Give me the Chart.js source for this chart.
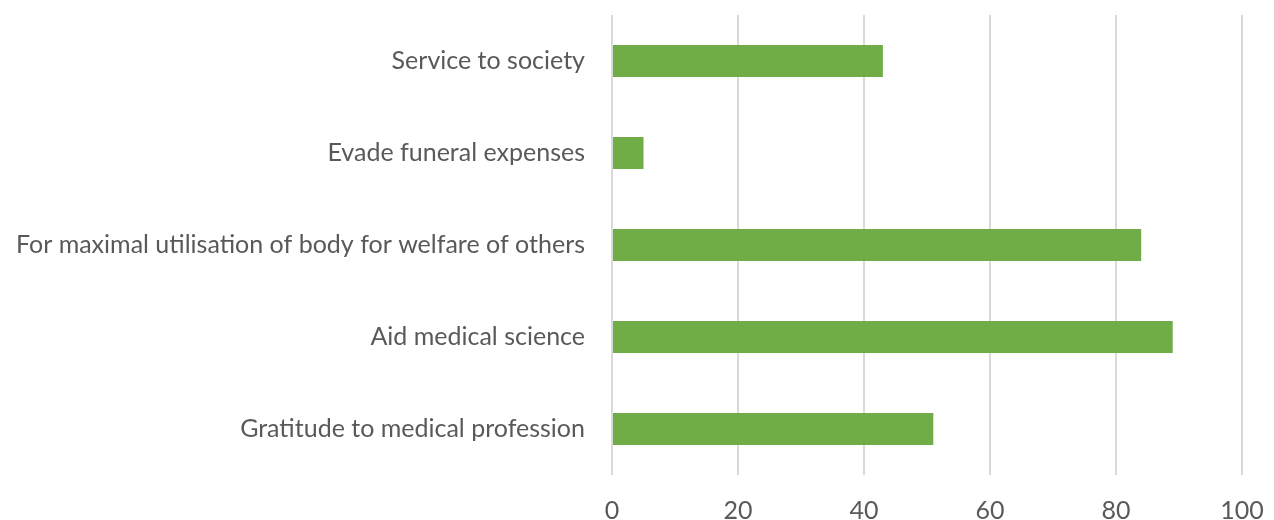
<!DOCTYPE html>
<html lang="en">
  <head>
    <meta charset="UTF-8" />
    <title>Reasons for body donation</title>
    <script src="https://cdn.jsdelivr.net/npm/chart.js"></script>
    <style>
      html, body { margin: 0; padding: 0; background: #fff; }
      div { width: 1274px; height: 520px; }
    </style>
  </head>
  <body>
    <div>
      <canvas id="myChart"></canvas>
    </div>
    <script>
      // categories, top to bottom
      const categories = [
        "Service to society",
        "Evade funeral expenses",
        "For maximal utilisation of body for welfare of others",
        "Aid medical science",
        "Gratitude to medical profession",
      ];
      const values = [43, 5, 84, 89, 51];
      const xTicks = [0, 20, 40, 60, 80, 100];

      const ctx = document.getElementById("myChart");
      new Chart(ctx, {
        type: "bar",
        data: {
          labels: categories,
          datasets: [
            {
              data: values,
              backgroundColor: "#70AD47",
              barPercentage: 0.35,
              categoryPercentage: 1.0,
            },
          ],
        },
        options: {
          indexAxis: "y",
          responsive: true,
          maintainAspectRatio: false,
          animation: false,
          layout: { padding: { top: 15, right: 32, left: 0, bottom: 0 } },
          plugins: { legend: { display: false }, tooltip: { enabled: false } },
          scales: {
            x: {
              min: 0,
              max: 100,
              afterBuildTicks: (scale) => {
                scale.ticks = xTicks.map((v) => ({ value: v }));
              },
              afterFit: (scale) => {
                scale.height = 45;
                scale.paddingLeft = 0;
                scale.paddingRight = 0;
              },
              border: { display: false },
              grid: { color: "#d9d9d9", lineWidth: 2, drawTicks: false },
              ticks: {
                padding: 21,
                color: "#595959",
                font: { family: "Lato", size: 25 },
              },
            },
            y: {
              afterFit: (scale) => {
                scale.width = 612;
                scale.paddingTop = 0;
                scale.paddingBottom = 0;
              },
              border: { display: false },
              grid: { display: false, drawTicks: false },
              ticks: {
                padding: 27,
                color: "#595959",
                font: { family: "Lato", size: 25 },
              },
            },
          },
        },
      });
    </script>
  </body>
</html>
